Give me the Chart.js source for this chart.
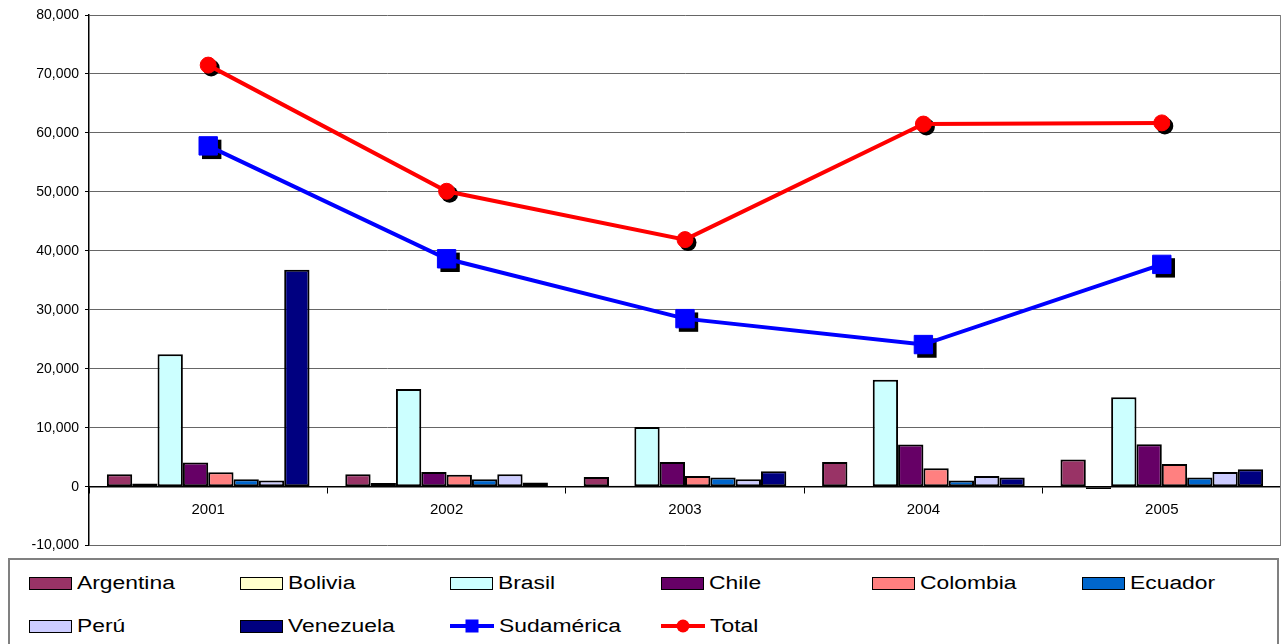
<!DOCTYPE html>
<html>
<head>
<meta charset="utf-8">
<script src="https://cdn.jsdelivr.net/npm/chart.js@4.4.1/dist/chart.umd.min.js"></script>
<style>
  html, body { margin: 0; background: #fff; overflow: hidden; font-family: Arial, "Liberation Sans", sans-serif; }
  #wrap { position: relative; width: 1281px; height: 644px; overflow: hidden; }
  #chartId { position: absolute; left: 0; top: 0; }
  #legend { position: absolute; left: 8px; top: 558px; width: 1271px; height: 120px;
            border: 2px solid #808080; box-sizing: border-box; background: #fff; }
  .item { position: absolute; height: 22px; display: flex; align-items: center; }
  .sw { width: 41px; height: 11px; border: 1.5px solid #000; box-sizing: content-box; }
  .ln { position: relative; width: 44px; height: 4px; }
  .ln .mk { position: absolute; left: 50%; top: 50%; transform: translate(-50%, -50%); }
  .lbl { font-size: 18px; color: #000; margin-left: 5px; transform: scaleX(1.27); transform-origin: left center; white-space: nowrap; }
</style>
</head>
<body>
<div id="wrap">
  <canvas id="chartId" width="1295" height="560"></canvas>
  <div id="legend"></div>
</div>
<script>
// categories and values
const years = ["2001", "2002", "2003", "2004", "2005"];

const argentina = [2100, 2100, 1650, 4200, 4600];
const bolivia = [550, 600, 150, 80, -400];
const brasil = [22450, 16550, 10100, 18150, 15150];
const chile = [4100, 2500, 4200, 7150, 7200];
const colombia = [2450, 2000, 1800, 3100, 3850];
const ecuador = [1250, 1250, 1550, 1050, 1550];
const peru = [1050, 2100, 1250, 1800, 2500];
const venezuela = [36800, 700, 2600, 1550, 2950];
const sudamerica = [57800, 38650, 28500, 24100, 37700];
const total = [71500, 50100, 41900, 61500, 61700];

const yTicks = [-10000, 0, 10000, 20000, 30000, 40000, 50000, 60000, 70000, 80000];

// bar series: name, values, colour
var bars = [
  ["Argentina", argentina, "#993366"],
  ["Bolivia", bolivia, "#FFFFCC"],
  ["Brasil", brasil, "#CCFFFF"],
  ["Chile", chile, "#660066"],
  ["Colombia", colombia, "#FF8080"],
  ["Ecuador", ecuador, "#0066CC"],
  ["Perú", peru, "#CCCCFF"],
  ["Venezuela", venezuela, "#000080"],
];

var datasets = [];

// lines get a lower order so they are drawn over the bars
datasets.push({
  type: "line",
  label: "Sudamérica",
  data: sudamerica,
  borderColor: "#0000FF",
  borderWidth: 4,
  pointStyle: "rect",
  pointRadius: 13,
  pointBackgroundColor: "#0000FF",
  pointBorderColor: "#0000FF",
  pointBorderWidth: 1,
  tension: 0,
  order: 1,
  shadow: 3.5,
});
datasets.push({
  type: "line",
  label: "Total",
  data: total,
  borderColor: "#FF0000",
  borderWidth: 4,
  pointStyle: "circle",
  pointRadius: 8,
  pointBackgroundColor: "#FF0000",
  pointBorderColor: "#FF0000",
  pointBorderWidth: 1,
  tension: 0,
  order: 0,
  shadow: 3,
});

for (let i = 0; i < bars.length; i++) {
  datasets.push({
    type: "bar",
    label: bars[i][0],
    data: bars[i][1],
    backgroundColor: bars[i][2],
    borderColor: "#000",
    borderWidth: 2,
    borderSkipped: false,
    categoryPercentage: 0.85,
    barPercentage: 1.0,
    order: 10,
  });
}

// black drop shadow under the line markers
const markerShadow = {
  id: "markerShadow",
  beforeDatasetDraw(chart, args) {
    const ds = chart.data.datasets[args.index];
    if (ds.type !== "line") return;
    const ctx = chart.ctx;
    const off = ds.shadow;
    ctx.save();
    ctx.fillStyle = "#000";
    args.meta.data.forEach(function (pt) {
      ctx.beginPath();
      if (ds.pointStyle === "rect") {
        var s = Math.SQRT1_2 * ds.pointRadius + 0.5;
        ctx.rect(pt.x + off - s, pt.y + off - s, 2 * s, 2 * s);
      } else {
        ctx.arc(pt.x + off, pt.y + off, ds.pointRadius + 0.5, 0, Math.PI * 2);
      }
      ctx.fill();
    });
    ctx.restore();
  },
};

// grey frame on the right side of the plot area
const plotFrame = {
  id: "plotFrame",
  beforeDatasetsDraw(chart) {
    const a = chart.chartArea;
    const ctx = chart.ctx;
    ctx.save();
    ctx.strokeStyle = "#808080";
    ctx.lineWidth = 1;
    ctx.beginPath();
    ctx.moveTo(a.right - 0.5, a.top);
    ctx.lineTo(a.right - 0.5, a.bottom);
    ctx.stroke();
    ctx.restore();
  },
};

chrt = document.getElementById("chartId").getContext("2d");

chartId = new Chart(chrt, {
  data: {
    labels: years,
    datasets: datasets,
  },
  options: {
    responsive: false,
    animation: false,
    devicePixelRatio: 1,
    layout: { padding: { top: 15, right: 1, bottom: 14, left: 0 } },
    plugins: {
      legend: { display: false },
      tooltip: { enabled: false },
    },
    scales: {
      x: {
        type: "category",
        position: { y: 0 },
        afterFit: function (s) {
          s.paddingLeft = 0;
          s.paddingRight = 0;
        },
        grid: { offset: true, drawOnChartArea: false, tickLength: 6, color: "#000", lineWidth: 1 },
        border: { color: "#000", width: 1.5 },
        ticks: { color: "#000", font: { family: "Arial", size: 15 }, padding: 8, maxRotation: 0 },
      },
      y: {
        min: -10000,
        max: 80000,
        afterBuildTicks: function (s) {
          s.ticks = yTicks.map(function (v) { return { value: v }; });
        },
        afterFit: function (s) { s.width = 89; },
        grid: { color: "#666", lineWidth: 1, tickLength: 4, tickColor: "#000" },
        border: { color: "#000", width: 1.5 },
        ticks: {
          color: "#000",
          font: { family: "Arial", size: 14 },
          padding: 6,
          callback: function (v) { return Number(v).toLocaleString("en-US"); },
        },
      },
    },
  },
  plugins: [markerShadow, plotFrame],
});

// legend laid out in fixed columns like the original
var legendItems = bars.map(function (b) { return { name: b[0], color: b[2], kind: "bar" }; });
legendItems.push({ name: "Sudamérica", color: "#0000FF", kind: "rect" });
legendItems.push({ name: "Total", color: "#FF0000", kind: "circle" });

var legend = document.getElementById("legend");
var colX = [19, 230, 440, 651, 862, 1072];
var rowY = [12, 55];
legendItems.forEach(function (it, i) {
  var el = document.createElement("div");
  el.className = "item";
  el.style.left = colX[i % 6] + "px";
  el.style.top = rowY[Math.floor(i / 6)] + "px";
  var sw;
  if (it.kind === "bar") {
    sw = document.createElement("div");
    sw.className = "sw";
    sw.style.background = it.color;
  } else {
    sw = document.createElement("div");
    sw.className = "ln";
    sw.style.background = it.color;
    var mk = document.createElement("div");
    mk.className = "mk";
    mk.style.background = it.color;
    mk.style.width = "13px";
    mk.style.height = "13px";
    if (it.kind === "circle") mk.style.borderRadius = "50%";
    sw.appendChild(mk);
  }
  var lbl = document.createElement("span");
  lbl.className = "lbl";
  lbl.textContent = it.name;
  el.appendChild(sw);
  el.appendChild(lbl);
  legend.appendChild(el);
});
</script>
</body>
</html>
